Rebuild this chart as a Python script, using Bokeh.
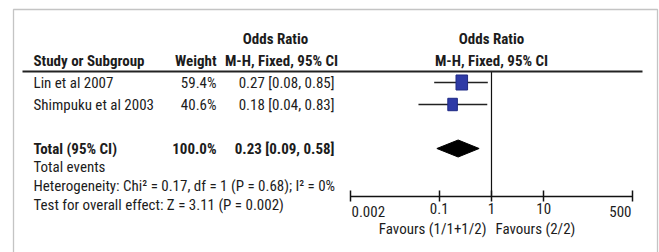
import math
from bokeh.plotting import figure
from bokeh.models import Label, BoxAnnotation, FixedTicker, Range1d
from bokeh.embed import file_html
from bokeh.resources import INLINE

# ---------------- data ----------------
studies = ["Lin et al 2007", "Shimpuku et al 2003"]
weights = [59.4, 40.6]
or_est = [0.27, 0.18]
ci_lo = [0.08, 0.04]
ci_hi = [0.85, 0.83]
total_weight = [100.0]
total_est = [0.23]
total_lo = [0.09]
total_hi = [0.58]
axis_ticks = [0.002, 0.1, 1, 10, 500]
axis_tick_labels = ["0.002", "0.1", "1", "10", "500"]
favour_left = "Favours (1/1+1/2)"
favour_right = "Favours (2/2)"
het_text = "Heterogeneity: Chi\u00b2 = 0.17, df = 1 (P = 0.68); I\u00b2 = 0%"
effect_text = "Test for overall effect: Z = 3.11 (P = 0.002)"

# ---------------- layout ----------------
W, H = 659, 252
PPD = 52.24                      # pixels per decade
X_AT_MIN_TICK = 350              # canvas x of the smallest tick
lmin = math.log10(axis_ticks[0]) - X_AT_MIN_TICK / PPD
lmax = lmin + W / PPD

FONT = "Roboto Condensed, Liberation Sans Narrow, Roboto, sans-serif"
FS = "15px"
TXT = "#1c1c1c"
ROW_Y = [82, 104]
TOTAL_Y = 148
EVENTS_Y = 166
HET_Y = 185
EFFECT_Y = 204
AXIS_Y = 196
HEAD1_Y = 38
HEAD2_Y = 60
RULE_Y = 71
FAV_Y = 228
TICKLAB_Y = 211
X_NAME = 33
X_WEIGHT = 216
X_OR = 334

p = figure(width=W, height=H, x_axis_type="log", output_backend="svg",
           toolbar_location=None, min_border=0, y_axis_location=None,
           x_range=Range1d(10 ** lmin, 10 ** lmax),
           y_range=Range1d(H, 0))
p.title_location = None
p.outline_line_color = None
p.grid.visible = False
p.background_fill_color = "white"
p.border_fill_color = "white"

# outer box
p.add_layout(BoxAnnotation(left=13, right=657, top=9, bottom=H + 20,
                           left_units="screen", right_units="screen",
                           fill_alpha=0, line_color="#3a3a3a", line_width=1.3))
# header rule
p.add_layout(BoxAnnotation(left=22, right=642, top=RULE_Y - 1, bottom=RULE_Y + 1,
                           left_units="screen", right_units="screen",
                           fill_color="#222222", fill_alpha=1, line_color=None))

# axis (end labels are drawn inward-aligned, as in the original)
ax = p.xaxis[0]
ax.fixed_location = AXIS_Y
ax.ticker = FixedTicker(ticks=axis_ticks)
ax.bounds = (axis_ticks[0], axis_ticks[-1])
overrides = {t: s for t, s in zip(axis_ticks, axis_tick_labels)}
overrides[axis_ticks[0]] = ""
overrides[axis_ticks[-1]] = ""
ax.major_label_overrides = overrides
ax.minor_tick_line_color = None
ax.major_tick_in = 6
ax.major_tick_out = 5
ax.axis_line_width = 1.5
ax.major_tick_line_width = 1.5
ax.axis_line_color = "#111111"
ax.major_tick_line_color = "#111111"
ax.major_label_text_font = FONT
ax.major_label_text_font_size = FS
ax.major_label_text_color = TXT
ax.major_label_standoff = 1

# null line
p.segment(x0=[1], y0=[RULE_Y], x1=[1], y1=[AXIS_Y], line_color="#111111", line_width=1.2)

# study CIs and squares
p.segment(x0=ci_lo, x1=ci_hi, y0=ROW_Y, y1=ROW_Y, line_color="#222222", line_width=1.5)
side = [1.5 * math.sqrt(w) for w in weights]
p.rect(x=or_est, y=ROW_Y, width=side, height=[s * 1.3 for s in side],
       width_units="screen", height_units="screen",
       fill_color="#2e3aa6", line_color="#1f2a85", line_width=1)

# total diamond
dh = 8.5
p.patch(x=[total_lo[0], total_est[0], total_hi[0], total_est[0]],
        y=[TOTAL_Y, TOTAL_Y - dh, TOTAL_Y, TOTAL_Y + dh],
        fill_color="black", line_color="black")


def lab(text, x, y, align="left", bold=False, xunits="screen", xoff=0):
    p.add_layout(Label(x=x, y=y, x_units=xunits, y_units="data", text=text,
                       x_offset=xoff,
                       text_font=FONT, text_font_size=FS, text_color=TXT,
                       text_align=align, text_baseline="middle",
                       text_font_style="bold" if bold else "normal"))


# headers
lab("Odds Ratio", 275, HEAD1_Y, "center", True)
lab("Study or Subgroup", X_NAME, HEAD2_Y, "left", True)
lab("Weight", X_WEIGHT, HEAD2_Y, "right", True)
lab("M-H, Fixed, 95% CI", 281, HEAD2_Y, "center", True)
lab("Odds Ratio", 1, HEAD1_Y, "center", True, xunits="data")
lab("M-H, Fixed, 95% CI", 1, HEAD2_Y, "center", True, xunits="data")

# rows
for s, w, e, lo, hi, y in zip(studies, weights, or_est, ci_lo, ci_hi, ROW_Y):
    lab(s, X_NAME, y)
    lab(f"{w:.1f}%", X_WEIGHT, y, "right")
    lab(f"{e:.2f} [{lo:.2f}, {hi:.2f}]", X_OR, y, "right")

lab("Total (95% CI)", X_NAME, TOTAL_Y, "left", True)
lab(f"{total_weight[0]:.1f}%", X_WEIGHT, TOTAL_Y, "right", True)
lab(f"{total_est[0]:.2f} [{total_lo[0]:.2f}, {total_hi[0]:.2f}]", X_OR, TOTAL_Y, "right", True)
lab("Total events", X_NAME, EVENTS_Y)
lab(het_text, X_NAME, HET_Y)
lab(effect_text, X_NAME, EFFECT_Y)

# end tick labels (inward aligned)
lab(axis_tick_labels[0], axis_ticks[0], TICKLAB_Y, "left", xunits="data", xoff=1)
lab(axis_tick_labels[-1], axis_ticks[-1], TICKLAB_Y, "right", xunits="data", xoff=-1)

# favours
lab(favour_left, 1, FAV_Y, "right", xunits="data", xoff=-5)
lab(favour_right, 1, FAV_Y, "left", xunits="data", xoff=4)

open("out.html", "w").write(file_html(p, INLINE))
